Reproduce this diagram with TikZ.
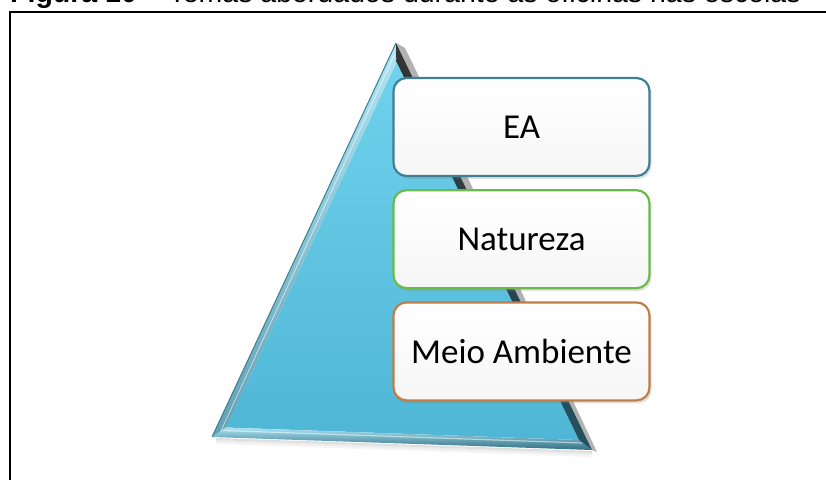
\documentclass[tikz,border=0pt]{standalone}
\usepackage{fontspec}
\setmainfont{Liberation Sans}
\newfontfamily\carlito{Carlito}
\usetikzlibrary{calc}
\usetikzlibrary{positioning}
\usetikzlibrary{shadows}

\definecolor{bordaEA}{HTML}{3F7F95}
\definecolor{bordaNat}{HTML}{6BBB4A}
\definecolor{bordaMeio}{HTML}{C07D48}
\definecolor{azulTopo}{HTML}{70D2EC}
\definecolor{azulBase}{HTML}{4FB6D6}

\tikzset{tema/.style={draw=#1, line width=2.2pt, rounded corners=13pt,
  minimum width=256pt, minimum height=98pt, top color=white, bottom color=gray!7,
  font=\carlito\fontsize{35}{40}\selectfont,
  drop shadow={opacity=0.22, shadow xshift=2pt, shadow yshift=-3pt}}}

\begin{document}
\begin{tikzpicture}[x=1pt,y=-1pt]
\useasboundingbox (0,0) rectangle (826,479);
\node[anchor=base west, inner sep=0, font=\fontsize{28.5}{30}\selectfont] (titulo) at (10,2.5)
  {\textbf{Figura 10} -- Temas abordados durante as oficinas nas escolas};
\draw[black, line width=2pt] (840,12) -- (10,12) -- (10,490);

\coordinate (A) at (396,43);
\coordinate (B) at (212,437);
\coordinate (C) at (592,450);
\coordinate (a) at (396.6,62);
\coordinate (b) at (226,427.5);
\coordinate (c) at (579,440);
% sombra
\foreach \d/\o in {2/.25,4/.15,6/.08}
  \draw[gray, line width=2pt, opacity=\o] ($(B)+(4,\d)$) -- ($(C)+(0,\d)$);
\fill[black, opacity=.3] (A) -- ($(A)+(9,5)$) -- ($(A)!.3!(C)+(7,0)$) -- ($(C)+(5,2)$) -- (C) -- cycle;
\shade[top color=azulTopo, bottom color=azulBase] (a) -- (b) -- (c) -- cycle;
\shade[top color=white!45!azulTopo, bottom color=gray!40!azulBase] (A) -- (B) -- (b) -- (a) -- cycle;
\draw[azulBase!70!black, line width=1pt] (A) -- (B);
\draw[white, opacity=.5, line width=1pt] ($(A)!.03!(B)+(4,0)$) -- ($(B)+(8,-4)$);
\shade[top color=white!40!azulTopo, bottom color=azulBase!60!black] (B) -- (C) -- (c) -- (b) -- cycle;
\draw[white, opacity=.5, line width=1.2pt] ($(b)+(-3,3)$) -- ($(c)+(3,3)$);
\shade[top color=black!80, bottom color=azulBase!45!black] (C) -- (A) -- (a) -- (c) -- cycle;

\node[tema=bordaEA] (ea) at (521.5,127) {EA};
\node[tema=bordaNat, below=12pt of ea] (natureza) {Natureza};
\node[tema=bordaMeio, below=12pt of natureza] (meio) {Meio Ambiente};
\end{tikzpicture}
\end{document}
